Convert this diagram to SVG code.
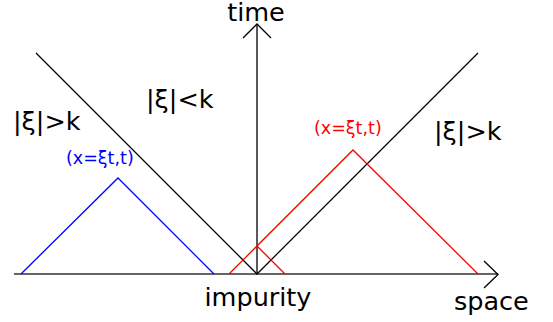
<svg xmlns="http://www.w3.org/2000/svg" width="553" height="322" viewBox="0 0 553 322">
<style>
.ln{fill:none;stroke-width:1.3;stroke-linejoin:miter}
.k{stroke:#000}
.b{stroke:#0000ff}
.r{stroke:#ff0000}
text{font-family:"DejaVu Sans",sans-serif;fill:#000}
.big{font-size:25.5px}
.sm{font-size:17.5px}
</style>
<rect width="553" height="322" fill="#fff"/>
<g id="connectors">
<g id="space-axis"><path class="ln" d="M14 274H498" stroke="#333" stroke-width="1.6"/><path class="ln k" d="M484 261L498 274.5L484 288"/></g>
<g id="time-axis"><path class="ln k" d="M257 274V24"/><path class="ln k" d="M243 38L257 24L271 38"/></g>
<g id="cone"><path class="ln k" d="M36 53L257 274L478 53"/></g>
<g id="blue-triangle"><path class="ln b" d="M21 274L118 178L214 274"/></g>
<g id="red-triangle"><path class="ln r" d="M229 274L353 150L478 274"/><path class="ln r" d="M257 246L285 274"/></g>
</g>
<g id="labels">
<text class="big" x="256" y="21" text-anchor="middle">time</text>
<text class="big" x="146" y="108">|ξ|&lt;k</text>
<text class="big" x="13" y="130">|ξ|&gt;k</text>
<text class="big" x="434" y="140">|ξ|&gt;k</text>
<text class="sm" x="66" y="164" style="fill:#0000ff">(x=ξt,t)</text>
<text class="sm" x="314" y="134" style="fill:#ff0000">(x=ξt,t)</text>
<text class="big" x="258" y="306" text-anchor="middle">impurity</text>
<text class="big" x="454" y="310">space</text>
</g>
</svg>
